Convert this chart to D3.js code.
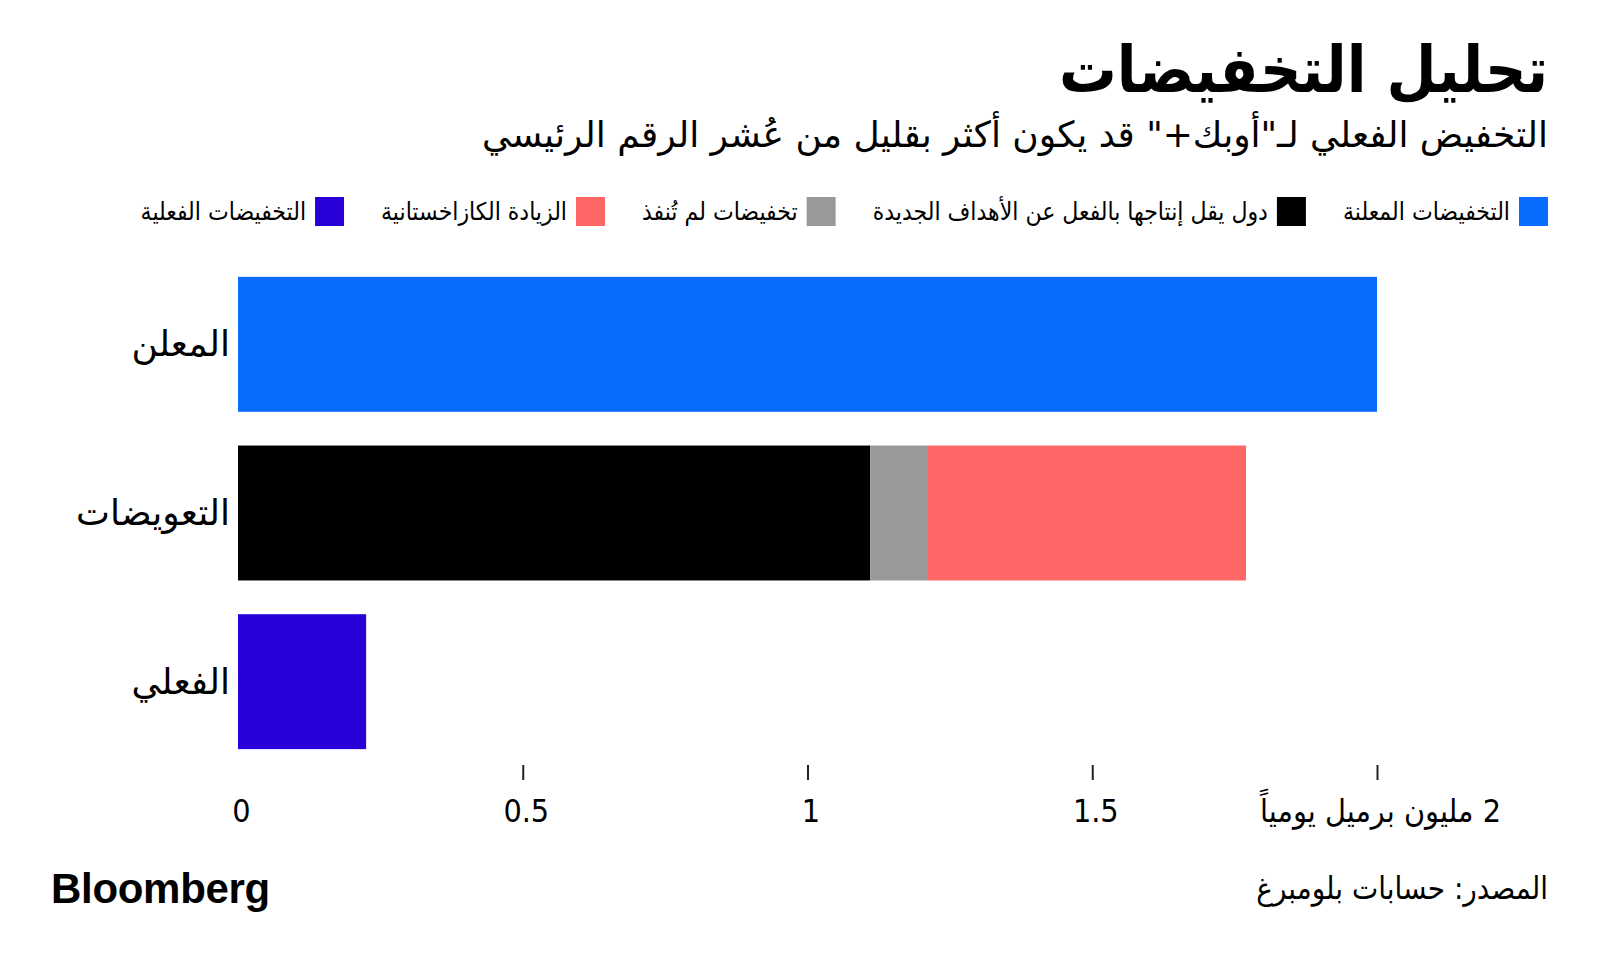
<!DOCTYPE html>
<html>
<head>
<meta charset="utf-8">
<script src="https://cdn.jsdelivr.net/npm/d3@7"></script>
<style>
  body { margin: 0; background: #fff; }
  svg { display: block; font-family: "DejaVu Sans Condensed", "DejaVu Sans", sans-serif; }
</style>
</head>
<body>
<svg id="chart" width="1600" height="967"></svg>
<script>
// data
const categories = ["المعلن", "التعويضات", "الفعلي"];
const seriesNames = ["التخفيضات المعلنة", "دول يقل إنتاجها بالفعل عن الأهداف الجديدة", "تخفيضات لم تُنفذ", "الزيادة الكازاخستانية", "التخفيضات الفعلية"];
const seriesColors = ["#0a6cff", "#000000", "#999999", "#ff6666", "#2a00d9"];
const announced = [2.0, 0, 0];
const compliant = [0, 1.11, 0];
const notImplemented = [0, 0.10, 0];
const kazakhIncrease = [0, 0.56, 0];
const actualCuts = [0, 0, 0.225];
const tickValues = [0, 0.5, 1, 1.5, 2];
const tickLabels = ["0", "0.5", "1", "1.5", "2 مليون برميل يومياً"];

const svg = d3.select("#chart");

// title + subtitle
svg.append("text")
  .attr("x", 1548).attr("y", 92)
  .attr("direction", "rtl").attr("text-anchor", "start")
  .style("font-size", "64px").style("font-weight", "bold")
  .text("تحليل التخفيضات");

svg.append("text")
  .attr("x", 1548).attr("y", 147)
  .attr("direction", "rtl").attr("text-anchor", "start")
  .style("font-size", "36px")
  .attr("textLength", 1066).attr("lengthAdjust", "spacingAndGlyphs")
  .text("التخفيض الفعلي لـ\"أوبك+\" قد يكون أكثر بقليل من عُشر الرقم الرئيسي");

// legend, laid out right to left
const legend = svg.append("g");
let lx = 1548;
seriesNames.forEach((name, i) => {
  legend.append("rect")
    .attr("x", lx - 29).attr("y", 197)
    .attr("width", 29).attr("height", 29)
    .attr("fill", seriesColors[i]);
  const t = legend.append("text")
    .attr("x", lx - 38).attr("y", 220)
    .attr("direction", "rtl").attr("text-anchor", "start")
    .style("font-size", "24.5px")
    .text(name);
  const w = t.node().getComputedTextLength();
  lx = lx - 38 - w - 37;
});

// scales
const x = d3.scaleLinear().domain([0, 2]).range([238, 1377]);
const y = d3.scaleBand().domain(categories).range([260, 766])
  .paddingInner(0.2).paddingOuter(0.1);

const rows = categories.map((c, i) => ({
  cat: c,
  s0: announced[i], s1: compliant[i], s2: notImplemented[i], s3: kazakhIncrease[i], s4: actualCuts[i]
}));
const stack = d3.stack().keys(["s0", "s1", "s2", "s3", "s4"]);
const layers = stack(rows);

svg.append("g").selectAll("g")
  .data(layers)
  .join("g")
  .attr("fill", (d, i) => seriesColors[i])
  .selectAll("rect")
  .data(d => d.filter(p => p[1] - p[0] > 0))
  .join("rect")
  .attr("x", d => x(d[0]))
  .attr("y", d => y(d.data.cat))
  .attr("width", d => x(d[1]) - x(d[0]))
  .attr("height", y.bandwidth());

// category labels
svg.append("g").selectAll("text")
  .data(categories)
  .join("text")
  .attr("x", 230)
  .attr("y", d => y(d) + y.bandwidth() / 2 + 12)
  .attr("text-anchor", "end")
  .style("font-family", "DejaVu Sans")
  .style("font-size", "36px")
  .text(d => d);

// x axis
const axis = d3.axisBottom(x)
  .tickValues(tickValues)
  .tickSize(15)
  .tickPadding(19)
  .tickFormat((d, i) => tickLabels[i]);

const ax = svg.append("g")
  .attr("transform", "translate(0,765)")
  .call(axis);
ax.select(".domain").remove();
ax.selectAll(".tick line")
  .attr("stroke", "#222").attr("stroke-width", 2)
  .attr("opacity", d => d === 0 ? 0 : 1);
ax.selectAll(".tick text")
  .attr("fill", "#000")
  .style("font-size", "32px")
  .style("font-family", "DejaVu Sans Condensed, DejaVu Sans")
  .attr("direction", d => d === 2 ? "rtl" : null)
  .attr("dx", 3);

// footer
svg.append("text")
  .attr("x", 51).attr("y", 903)
  .style("font-family", "Liberation Sans, Arial")
  .style("font-size", "42px").style("font-weight", "bold")
  .style("letter-spacing", "-0.3px")
  .text("Bloomberg");

svg.append("text")
  .attr("x", 1548).attr("y", 899)
  .attr("direction", "rtl").attr("text-anchor", "start")
  .style("font-size", "31px")
  .text("المصدر: حسابات بلومبرغ");
</script>
</body>
</html>
